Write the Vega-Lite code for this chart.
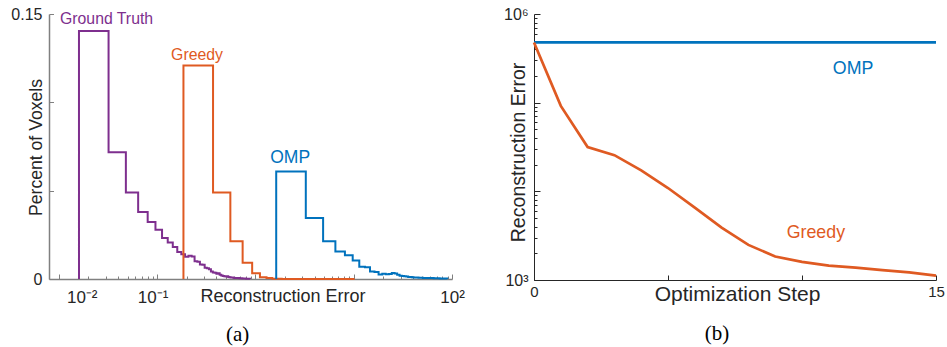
{
  "$schema": "https://vega.github.io/schema/vega-lite/v6.json",
  "background": "white",
  "padding": {"left": 10, "top": 6, "right": 0, "bottom": 0},
  "bounds": "flush",
  "spacing": 82,
  "config": {
    "view": {"stroke": null},
    "font": "Liberation Sans",
    "axis": {"grid": false}
  },
  "datasets": {
    "hist": [
      {"series": "Ground Truth", "err": 0.01603, "pct": 0},
      {"series": "Ground Truth", "err": 0.01603, "pct": 0.1404},
      {"series": "Ground Truth", "err": 0.03206, "pct": 0.0718},
      {"series": "Ground Truth", "err": 0.04809, "pct": 0.0490},
      {"series": "Ground Truth", "err": 0.06412, "pct": 0.0379},
      {"series": "Ground Truth", "err": 0.08015, "pct": 0.0322},
      {"series": "Ground Truth", "err": 0.09618, "pct": 0.0279},
      {"series": "Ground Truth", "err": 0.1122, "pct": 0.0232},
      {"series": "Ground Truth", "err": 0.1282, "pct": 0.0207},
      {"series": "Ground Truth", "err": 0.1443, "pct": 0.0181},
      {"series": "Ground Truth", "err": 0.1603, "pct": 0.0153},
      {"series": "Ground Truth", "err": 0.1763, "pct": 0.0140},
      {"series": "Ground Truth", "err": 0.1924, "pct": 0.0126},
      {"series": "Ground Truth", "err": 0.2084, "pct": 0.0131},
      {"series": "Ground Truth", "err": 0.2244, "pct": 0.0127},
      {"series": "Ground Truth", "err": 0.2405, "pct": 0.0100},
      {"series": "Ground Truth", "err": 0.2565, "pct": 0.0097},
      {"series": "Ground Truth", "err": 0.2725, "pct": 0.0082},
      {"series": "Ground Truth", "err": 0.2885, "pct": 0.0080},
      {"series": "Ground Truth", "err": 0.3046, "pct": 0.0064},
      {"series": "Ground Truth", "err": 0.3206, "pct": 0.0061},
      {"series": "Ground Truth", "err": 0.3366, "pct": 0.0055},
      {"series": "Ground Truth", "err": 0.3527, "pct": 0.0042},
      {"series": "Ground Truth", "err": 0.3687, "pct": 0.0037},
      {"series": "Ground Truth", "err": 0.3847, "pct": 0.0035},
      {"series": "Ground Truth", "err": 0.4008, "pct": 0.0030},
      {"series": "Ground Truth", "err": 0.4168, "pct": 0.0033},
      {"series": "Ground Truth", "err": 0.4328, "pct": 0.0024},
      {"series": "Ground Truth", "err": 0.4488, "pct": 0.0020},
      {"series": "Ground Truth", "err": 0.4649, "pct": 0.0017},
      {"series": "Ground Truth", "err": 0.4809, "pct": 0.0015},
      {"series": "Ground Truth", "err": 0.4969, "pct": 0.0014},
      {"series": "Ground Truth", "err": 0.5130, "pct": 0.0015},
      {"series": "Ground Truth", "err": 0.5290, "pct": 0.0011},
      {"series": "Ground Truth", "err": 0.5450, "pct": 0.0010},
      {"series": "Ground Truth", "err": 0.5611, "pct": 0.0009},
      {"series": "Ground Truth", "err": 0.5771, "pct": 0.0008},
      {"series": "Ground Truth", "err": 0.5931, "pct": 0.0007},
      {"series": "Ground Truth", "err": 0.6091, "pct": 0.0006},
      {"series": "Ground Truth", "err": 0.6412, "pct": 0.0005},
      {"series": "Ground Truth", "err": 0.6893, "pct": 0.0004},
      {"series": "Ground Truth", "err": 0.7374, "pct": 0.0003},
      {"series": "Ground Truth", "err": 0.8015, "pct": 0.0002},
      {"series": "Ground Truth", "err": 0.8817, "pct": 0},
      {"series": "Greedy", "err": 0.1853, "pct": 0},
      {"series": "Greedy", "err": 0.1853, "pct": 0.1208},
      {"series": "Greedy", "err": 0.3706, "pct": 0.0490},
      {"series": "Greedy", "err": 0.5559, "pct": 0.0214},
      {"series": "Greedy", "err": 0.7412, "pct": 0.0092},
      {"series": "Greedy", "err": 0.9265, "pct": 0.0033},
      {"series": "Greedy", "err": 1.1118, "pct": 0.0010},
      {"series": "Greedy", "err": 1.2971, "pct": 0.0005},
      {"series": "Greedy", "err": 1.4824, "pct": 0.0002},
      {"series": "Greedy", "err": 1.6677, "pct": 0.0001},
      {"series": "Greedy", "err": 1.853, "pct": 0},
      {"series": "Greedy", "err": 10.19, "pct": 0},
      {"series": "OMP", "err": 1.6276, "pct": 0},
      {"series": "OMP", "err": 1.6276, "pct": 0.0608},
      {"series": "OMP", "err": 3.2552, "pct": 0.0345},
      {"series": "OMP", "err": 4.8828, "pct": 0.0213},
      {"series": "OMP", "err": 6.5104, "pct": 0.0156},
      {"series": "OMP", "err": 8.138, "pct": 0.0134},
      {"series": "OMP", "err": 9.7656, "pct": 0.0105},
      {"series": "OMP", "err": 11.393, "pct": 0.0070},
      {"series": "OMP", "err": 13.021, "pct": 0.0066},
      {"series": "OMP", "err": 14.648, "pct": 0.0043},
      {"series": "OMP", "err": 16.276, "pct": 0.0040},
      {"series": "OMP", "err": 17.904, "pct": 0.0026},
      {"series": "OMP", "err": 19.531, "pct": 0.0030},
      {"series": "OMP", "err": 21.159, "pct": 0.0027},
      {"series": "OMP", "err": 22.786, "pct": 0.0029},
      {"series": "OMP", "err": 24.414, "pct": 0.0034},
      {"series": "OMP", "err": 26.042, "pct": 0.0031},
      {"series": "OMP", "err": 27.669, "pct": 0.0024},
      {"series": "OMP", "err": 29.297, "pct": 0.0019},
      {"series": "OMP", "err": 30.924, "pct": 0.0017},
      {"series": "OMP", "err": 32.552, "pct": 0.0015},
      {"series": "OMP", "err": 34.18, "pct": 0.0014},
      {"series": "OMP", "err": 35.807, "pct": 0.0012},
      {"series": "OMP", "err": 37.435, "pct": 0.0011},
      {"series": "OMP", "err": 39.062, "pct": 0.0010},
      {"series": "OMP", "err": 40.69, "pct": 0.0009},
      {"series": "OMP", "err": 42.318, "pct": 0.0008},
      {"series": "OMP", "err": 45.573, "pct": 0.0007},
      {"series": "OMP", "err": 50.456, "pct": 0.0006},
      {"series": "OMP", "err": 56.966, "pct": 0.0005},
      {"series": "OMP", "err": 65.104, "pct": 0.0004},
      {"series": "OMP", "err": 74.87, "pct": 0.0003},
      {"series": "OMP", "err": 89.518, "pct": 0}
    ],
    "histLabels": [
      {"series": "Ground Truth", "err": 0.01028, "pct": 0.1472},
      {"series": "Greedy", "err": 0.1387, "pct": 0.1268},
      {"series": "OMP", "err": 1.414, "pct": 0.0686}
    ],
    "steps": [
      {"series": "OMP", "step": 0, "err": 478000},
      {"series": "OMP", "step": 1, "err": 478000},
      {"series": "OMP", "step": 2, "err": 478000},
      {"series": "OMP", "step": 3, "err": 478000},
      {"series": "OMP", "step": 4, "err": 478000},
      {"series": "OMP", "step": 5, "err": 478000},
      {"series": "OMP", "step": 6, "err": 478000},
      {"series": "OMP", "step": 7, "err": 478000},
      {"series": "OMP", "step": 8, "err": 478000},
      {"series": "OMP", "step": 9, "err": 478000},
      {"series": "OMP", "step": 10, "err": 478000},
      {"series": "OMP", "step": 11, "err": 478000},
      {"series": "OMP", "step": 12, "err": 478000},
      {"series": "OMP", "step": 13, "err": 478000},
      {"series": "OMP", "step": 14, "err": 478000},
      {"series": "OMP", "step": 15, "err": 478000},
      {"series": "Greedy", "step": 0, "err": 478000},
      {"series": "Greedy", "step": 1, "err": 92000},
      {"series": "Greedy", "step": 2, "err": 31600},
      {"series": "Greedy", "step": 3, "err": 25600},
      {"series": "Greedy", "step": 4, "err": 17200},
      {"series": "Greedy", "step": 5, "err": 10900},
      {"series": "Greedy", "step": 6, "err": 6560},
      {"series": "Greedy", "step": 7, "err": 3900},
      {"series": "Greedy", "step": 8, "err": 2490},
      {"series": "Greedy", "step": 9, "err": 1840},
      {"series": "Greedy", "step": 10, "err": 1600},
      {"series": "Greedy", "step": 11, "err": 1450},
      {"series": "Greedy", "step": 12, "err": 1380},
      {"series": "Greedy", "step": 13, "err": 1290},
      {"series": "Greedy", "step": 14, "err": 1220},
      {"series": "Greedy", "step": 15, "err": 1120}
    ],
    "stepLabels": [
      {"series": "OMP", "step": 11.15, "err": 242000},
      {"series": "Greedy", "step": 9.43, "err": 3400}
    ]
  },
  "hconcat": [
    {
      "width": 403,
      "height": 265,
      "title": {"text": "(a)", "orient": "bottom", "font": "Liberation Serif", "fontSize": 21, "fontWeight": "normal", "color": "black", "offset": 19, "anchor": "middle", "frame": "bounds"},
      "resolve": {"axis": {"x": "independent", "y": "independent"}},
      "layer": [
        {
          "data": {"name": "hist"},
          "mark": {"type": "line", "interpolate": "step-after", "strokeWidth": 2},
          "encoding": {
            "x": {
              "field": "err", "type": "quantitative",
              "scale": {"type": "log", "domain": [0.007943, 100], "nice": false},
              "axis": {
                "orient": "bottom", "values": [0.0171, 0.09, 100],
                "labelExpr": "datum.value < 0.05 ? '10⁻²' : (datum.value < 1 ? '10⁻¹' : '10²')",
                "ticks": false, "domainColor": "#808080", "domainWidth": 1.5,
                "labelFontSize": 17, "labelColor": "#262626", "labelPadding": 10,
                "labelFlush": false, "labelOverlap": false,
                "title": "Reconstruction Error", "titleFontSize": 18, "titleFontWeight": "normal", "titleColor": "#262626",
                "titleX": 233.5, "titleY": 22.4, "titleBaseline": "alphabetic", "titleAlign": "center"
              }
            },
            "y": {
              "field": "pct", "type": "quantitative",
              "scale": {"domain": [0, 0.15], "nice": false},
              "axis": {
                "orient": "left", "values": [0, 0.15],
                "labelExpr": "datum.value == 0 ? '0' : '0.15'",
                "ticks": false, "domainColor": "#808080", "domainWidth": 1.5,
                "labelFontSize": 16, "labelColor": "#262626", "labelPadding": 7,
                "labelFlush": false, "labelOverlap": false,
                "title": "Percent of Voxels", "titleFontSize": 17.6, "titleFontWeight": "normal", "titleColor": "#262626",
                "titleX": -13, "titleY": 133, "titleBaseline": "middle", "titleAlign": "center"
              }
            },
            "color": {"field": "series", "type": "nominal", "scale": {"domain": ["Ground Truth", "Greedy", "OMP"], "range": ["#7E2F8E", "#DF5A22", "#0072BD"]}, "legend": null},
            "order": {"value": null}
          }
        },
        {
          "data": {"name": "histLabels"},
          "mark": {"type": "text", "align": "left", "baseline": "middle"},
          "encoding": {
            "x": {
              "field": "err", "type": "quantitative",
              "axis": {
                "orient": "bottom", "labels": false, "domain": false, "title": null,
                "values": [0.01, 0.02, 0.03, 0.04, 0.05, 0.06, 0.07, 0.08, 0.09, 0.1, 0.2, 0.3, 0.4, 0.5, 0.6, 0.7, 0.8, 0.9, 1, 2, 3, 4, 5, 6, 7, 8, 9, 10, 20, 30, 40, 50, 60, 70, 80, 90, 100],
                "tickColor": "#808080", "tickWidth": 1,
                "tickSize": {"condition": {"test": "abs(log(datum.value)/LN10 - round(log(datum.value)/LN10)) < 0.001", "value": -5}, "value": -3}
              }
            },
            "y": {
              "field": "pct", "type": "quantitative",
              "axis": {
                "orient": "left", "labels": false, "domain": false, "title": null,
                "values": [0, 0.05, 0.1, 0.15], "tickColor": "#808080", "tickWidth": 1, "tickSize": -4.5
              }
            },
            "text": {"field": "series"},
            "size": {"condition": {"test": "datum.series === 'OMP'", "value": 17.5}, "value": 15.8},
            "color": {"field": "series", "type": "nominal", "legend": null}
          }
        }
      ]
    },
    {
      "width": 402,
      "height": 266,
      "title": {"text": "(b)", "orient": "bottom", "font": "Liberation Serif", "fontSize": 21, "fontWeight": "normal", "color": "black", "offset": 19, "dx": -7, "anchor": "middle", "frame": "bounds"},
      "resolve": {"axis": {"x": "independent", "y": "independent"}},
      "layer": [
        {
          "data": {"name": "steps"},
          "mark": {"type": "line", "strokeWidth": 2.7},
          "encoding": {
            "x": {
              "field": "step", "type": "quantitative",
              "scale": {"domain": [0, 15], "nice": false},
              "axis": {
                "orient": "bottom", "values": [0, 15], "ticks": false,
                "domainColor": "#262626", "domainWidth": 1,
                "labelFontSize": 15, "labelColor": "#262626", "labelPadding": 4,
                "labelFlush": false, "labelOverlap": false,
                "title": "Optimization Step", "titleFontSize": 21, "titleFontWeight": "normal", "titleColor": "#262626",
                "titleX": 203, "titleY": 20, "titleBaseline": "alphabetic", "titleAlign": "center"
              }
            },
            "y": {
              "field": "err", "type": "quantitative",
              "scale": {"type": "log", "domain": [1000, 1000000], "nice": false},
              "axis": {
                "orient": "left", "values": [1000, 1000000],
                "labelExpr": "datum.value < 5000 ? '10³' : '10⁶'",
                "ticks": false, "domainColor": "#262626", "domainWidth": 1,
                "labelFontSize": 16, "labelColor": "#262626", "labelPadding": 6,
                "labelFlush": false, "labelOverlap": false,
                "title": "Reconstruction Error", "titleFontSize": 19.6, "titleFontWeight": "normal", "titleColor": "#262626",
                "titleX": -16, "titleY": 138, "titleBaseline": "middle", "titleAlign": "center"
              }
            },
            "color": {"field": "series", "type": "nominal", "scale": {"domain": ["OMP", "Greedy"], "range": ["#0072BD", "#D95319"]}, "legend": null}
          }
        },
        {
          "data": {"name": "stepLabels"},
          "mark": {"type": "text", "align": "left", "baseline": "middle", "fontSize": 17.8},
          "encoding": {
            "x": {
              "field": "step", "type": "quantitative",
              "axis": {
                "orient": "bottom", "labels": false, "domain": false, "title": null,
                "values": [0, 5, 10, 15], "tickColor": "#262626", "tickWidth": 1, "tickSize": -5
              }
            },
            "y": {
              "field": "err", "type": "quantitative",
              "axis": {
                "orient": "left", "labels": false, "domain": false, "title": null,
                "values": [1000, 2000, 3000, 4000, 5000, 6000, 7000, 8000, 9000, 10000, 20000, 30000, 40000, 50000, 60000, 70000, 80000, 90000, 100000, 200000, 300000, 400000, 500000, 600000, 700000, 800000, 900000, 1000000],
                "tickColor": "#262626", "tickWidth": 1,
                "tickSize": {"condition": {"test": "indexof([1000, 10000, 100000, 1000000], datum.value) >= 0", "value": -6}, "value": -3}
              }
            },
            "text": {"field": "series"},
            "color": {"field": "series", "type": "nominal", "legend": null}
          }
        }
      ]
    }
  ]
}
